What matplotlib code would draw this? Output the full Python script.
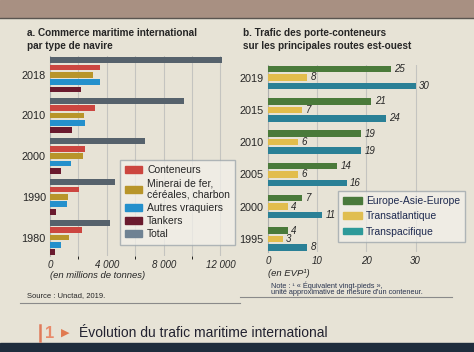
import matplotlib
matplotlib.use("Agg")
import matplotlib.pyplot as plt
from matplotlib.patches import Patch, Rectangle
import numpy as np

# --- data ---
years_a = ["2018", "2010", "2000", "1990", "1980"]
total = [12100, 9400, 6700, 4600, 4250]
conteneurs = [3550, 3150, 2450, 2050, 2250]
minerai = [3050, 2400, 2300, 1250, 1350]
autres_vraquiers = [3550, 2450, 1500, 1200, 750]
tankers = [2150, 1550, 800, 400, 350]

years_b = ["2019", "2015", "2010", "2005", "2000", "1995"]
europe_asie = [25, 21, 19, 14, 7, 4]
transatlantique = [8, 7, 6, 6, 4, 3]
transpacifique = [30, 24, 19, 16, 11, 8]

W, H = 474, 352
plt.rcParams["font.family"] = ["Liberation Sans", "DejaVu Sans"]
TXT = "#262626"
BG = "#e7e3d6"


def box(l, t, r, b):
    return [l / W, 1 - b / H, (r - l) / W, (b - t) / H]


def fx(x):
    return x / W


def fy(y):
    return 1 - y / H


fig = plt.figure(figsize=(W / 100, H / 100), dpi=100, facecolor=BG)

# top and bottom bands of the photographed page
fig.patches.append(Rectangle((0, fy(17)), 1, 17 / H, transform=fig.transFigure,
                             color="#a89082", zorder=0))
fig.add_artist(plt.Line2D([0, 1], [fy(17.5), fy(17.5)], color="#5a5550", lw=1))
fig.patches.append(Rectangle((0, 0), 1, 9 / H, transform=fig.transFigure,
                             color="#1f2d3d", zorder=0))

# ---------------- panel a ----------------
ax = fig.add_axes(box(50, 56.3, 229, 256))
ax.set_facecolor("none")
col_a = ["#56626c", "#cc4640", "#b8952a", "#2490cc", "#6a1a2e"]
series_a = [total, conteneurs, minerai, autres_vraquiers, tankers]
g = np.arange(len(years_a)) * 5.5
for j, (vals, c) in enumerate(zip(series_a, col_a)):
    ax.barh(g + j, vals, height=0.78, color=c, zorder=3)
ax.set_ylim(26.5, -0.5)
ax.set_xlim(0, 12600)
ax.set_yticks(g + 2)
ax.set_yticklabels(years_a, fontsize=7.8, color=TXT)
ax.set_xticks([0, 4000, 8000, 12000])
ax.set_xticklabels(["0", "4 000", "8 000", "12 000"], fontsize=7, style="italic", color=TXT)
ax.set_xticks(np.arange(2000, 12001, 2000), minor=True)
ax.grid(axis="x", which="both", color="#c4c4c0", lw=0.8, zorder=0)
ax.tick_params(length=0, pad=3)
for s in ["top", "right", "bottom"]:
    ax.spines[s].set_visible(False)
ax.spines["left"].set_color("#b0b0b0")

fig.text(fx(27), fy(33), "a. Commerce maritime international", fontsize=7.2,
         fontweight="bold", color=TXT, va="center")
fig.text(fx(27), fy(46), "par type de navire", fontsize=7.2, fontweight="bold",
         color=TXT, va="center")
fig.text(fx(50), fy(276), "(en millions de tonnes)", fontsize=6.8, style="italic",
         color=TXT, va="center")
fig.text(fx(27), fy(296), "Source : Unctad, 2019.", fontsize=5.5, color=TXT, va="center")
fig.add_artist(plt.Line2D([fx(20), fx(240)], [fy(303), fy(303)], color="#8a8a8a", lw=0.8))

handles_a = [Patch(color=col_a[1]), Patch(color=col_a[2]), Patch(color=col_a[3]),
             Patch(color=col_a[4]), Patch(color="#6f8293")]
labels_a = ["Conteneurs", "Minerai de fer,\ncéréales, charbon", "Autres vraquiers",
            "Tankers", "Total"]
leg = fig.legend(handles_a, labels_a, loc="upper left", bbox_to_anchor=(fx(120), fy(160)),
                 fontsize=7.5, frameon=True, fancybox=False, handlelength=1.6,
                 handleheight=0.55, labelspacing=0.3, borderpad=0.5, handletextpad=0.5,
                 borderaxespad=0)
leg.get_frame().set_facecolor("#f2f0ea")
leg.get_frame().set_alpha(0.75)
leg.get_frame().set_edgecolor("#9aa4aa")
for t in leg.get_texts():
    t.set_color(TXT)

# ---------------- panel b ----------------
bx = fig.add_axes(box(268, 64.75, 450, 251.75))
bx.set_facecolor("none")
col_b = ["#4a7a3a", "#e2bd4c", "#2a8096"]
series_b = [europe_asie, transatlantique, transpacifique]
gb = np.arange(len(years_b)) * 3.8
for j, (vals, c) in enumerate(zip(series_b, col_b)):
    bx.barh(gb + j, vals, height=0.76, color=c, zorder=3)
    for y, v in zip(gb + j, vals):
        bx.text(v + 0.7, y, str(v), fontsize=7, style="italic", color=TXT,
                va="center", ha="left", zorder=4)
bx.set_ylim(21.5, -0.5)
bx.set_xlim(0, 37)
bx.set_yticks(gb + 1)
bx.set_yticklabels(years_b, fontsize=7.8, color=TXT)
bx.set_xticks([0, 10, 20, 30])
bx.set_xticklabels(["0", "10", "20", "30"], fontsize=7, style="italic", color=TXT)
bx.grid(axis="x", color="#c4c4c0", lw=0.8, zorder=0)
bx.tick_params(length=0, pad=3)
for s in ["top", "right", "bottom"]:
    bx.spines[s].set_visible(False)
bx.spines["left"].set_color("#b0b0b0")

fig.text(fx(243), fy(33), "b. Trafic des porte-conteneurs", fontsize=7.2,
         fontweight="bold", color=TXT, va="center")
fig.text(fx(243), fy(46), "sur les principales routes est-ouest", fontsize=7.2,
         fontweight="bold", color=TXT, va="center")
fig.text(fx(268), fy(273), "(en EVP¹)", fontsize=6.8, style="italic", color=TXT, va="center")
fig.text(fx(271), fy(286), "Note : ¹ « Équivalent vingt-pieds »,", fontsize=5.3,
         color="#2a3550", va="center")
fig.text(fx(271), fy(293), "unité approximative de mesure d'un conteneur.", fontsize=5.3,
         color="#2a3550", va="center")
fig.add_artist(plt.Line2D([fx(240), fx(452)], [fy(297), fy(297)], color="#8a8a8a", lw=0.8))

handles_b = [Patch(color=c) for c in ["#4a7a3c", "#e0be50", "#2e9a9a"]]
leg_b = fig.legend(handles_b, ["Europe-Asie-Europe", "Transatlantique", "Transpacifique"],
                   loc="upper left", bbox_to_anchor=(fx(338), fy(191)), fontsize=7.5,
                   frameon=True, fancybox=False, handlelength=1.8, handleheight=0.6,
                   labelspacing=0.5, borderpad=0.5, handletextpad=0.4, borderaxespad=0)
leg_b.get_frame().set_facecolor("#f2f0ea")
leg_b.get_frame().set_alpha(0.75)
leg_b.get_frame().set_edgecolor("#9aa4aa")
for t in leg_b.get_texts():
    t.set_color("#1e2a50")

# ---------------- caption ----------------
fig.add_artist(plt.Line2D([fx(40), fx(40)], [fy(325), fy(341)], color="#e07a5a", lw=1.8))
fig.text(fx(45), fy(334), "1", fontsize=12, fontweight="bold", color="#e88a6a", va="center")
fig.text(fx(61), fy(333), "▶", fontsize=8, color="#e07a50", va="center",
         family=["DejaVu Sans"])
fig.text(fx(79), fy(333), "Évolution du trafic maritime international", fontsize=10,
         color="#222230", va="center")

fig.savefig("out.png", dpi=100, facecolor=BG)
